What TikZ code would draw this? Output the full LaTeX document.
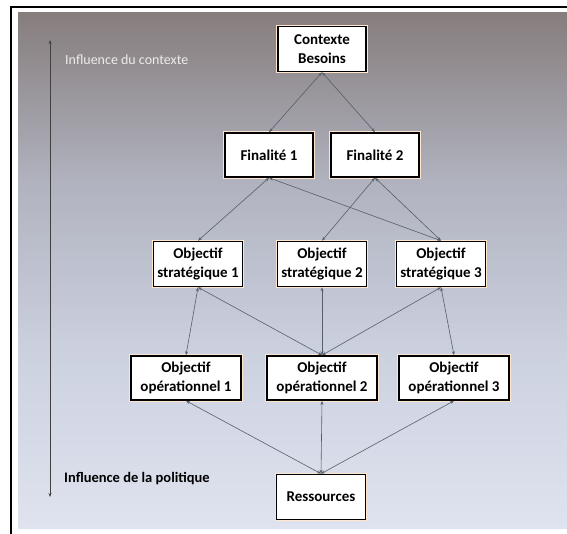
\documentclass[tikz,border=0pt]{standalone}
\usepackage{fontspec}
\setmainfont{Carlito}
\usepackage{xcolor}
\usetikzlibrary{positioning,calc,arrows.meta}

\definecolor{bgA}{RGB}{134,125,125}
\definecolor{bgB}{RGB}{176,178,190}
\definecolor{bgC}{RGB}{205,210,225}
\definecolor{bgD}{RGB}{223,227,239}
\definecolor{linkgray}{RGB}{85,95,105}

\begin{document}
\begin{tikzpicture}[x=1pt, y=-1pt, >={Stealth[length=4pt,width=3pt]},
    box/.style={draw, line width=1.6pt, fill=white, align=center, inner sep=2pt,
        font=\fontsize{15}{19}\selectfont\bfseries,
        preaction={draw=orange!20, line width=3.5pt}},
    link/.style={<->, draw=linkgray, line width=0.6pt}]

    % Frame and background
    \useasboundingbox (0,0) rectangle (567,534);
    \fill[white] (0,0) rectangle (567,534);
    \shade[top color=bgA, bottom color=bgB] (18,13) rectangle (567,181);
    \shade[top color=bgB, bottom color=bgC] (18,180) rectangle (567,361);
    \shade[top color=bgC, bottom color=bgD] (18,360) rectangle (567,528);
    \draw[line width=2.4pt] (567,7) -- (11,7) -- (11,534);

    % Boxes
    \node [box, minimum width=88pt, minimum height=45pt] (ctx) at (322,49) {Contexte\\Besoins};

    \node [box, minimum width=88pt, minimum height=44pt] (fin1) at (269,155) {Finalité 1};
    \node [box, minimum width=88pt, minimum height=44pt] (fin2) at (375,155) {Finalité 2};

    \foreach \n/\x in {1/198, 2/322, 3/441} {
        \node [box, minimum width=89pt, minimum height=45pt] (strat\n) at (\x,264) {Objectif\\stratégique \n};
    }

    \foreach \n/\x in {1/186, 2/322, 3/454} {
        \node [box, minimum width=110pt, minimum height=44pt] (op\n) at (\x,378) {Objectif\\opérationnel \n};
    }

    \node [box, minimum width=89pt, minimum height=45pt] (res) at (321,497) {Ressources};

    % Connections
    \draw [link] (ctx.south) -- (fin1.north);
    \draw [link] (ctx.south) -- (fin2.north);
    \foreach \a/\b in {fin1/strat1, fin1/strat3, fin2/strat2, fin2/strat3,
        strat1/op1, strat1/op2, strat2/op2, strat3/op2, strat3/op3,
        op1/res, op2/res, op3/res} {
        \draw [link] (\a.south) -- (\b.north);
    }

    % Influence axis
    \coordinate (axtop) at (50,40);
    \coordinate (axbot) at (50,497);
    \draw [<->, line width=0.9pt, draw=black!75] (axbot) -- (axtop);
    \node [right, inner sep=0pt, text=white!85!gray, font=\fontsize{14}{16}\selectfont] (ctxlabel) at (65,60) {Influence du contexte};
    \node [right, inner sep=0pt, font=\fontsize{14.5}{16}\selectfont\bfseries] (pollabel) at (64,479) {Influence de la politique};
\end{tikzpicture}
\end{document}
